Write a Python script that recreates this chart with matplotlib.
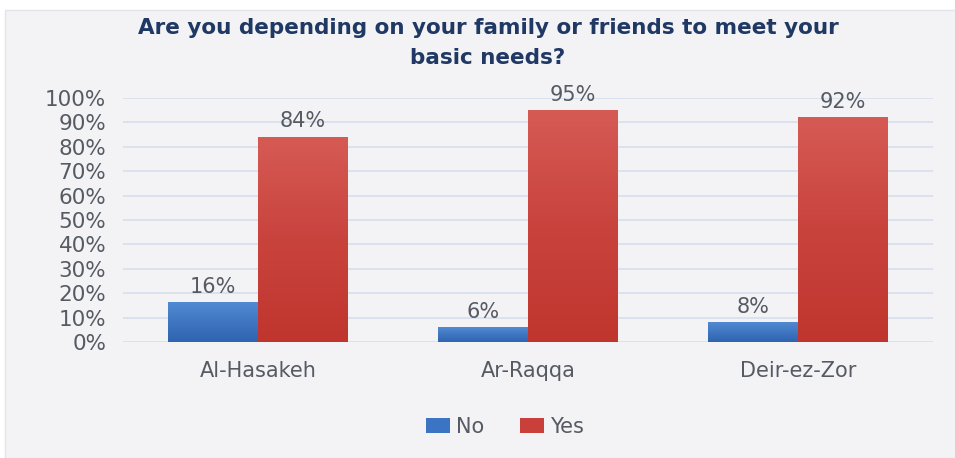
import numpy as np
import matplotlib.pyplot as plt
from matplotlib.patches import Rectangle
from matplotlib.colors import LinearSegmentedColormap

regions = ["Al-Hasakeh", "Ar-Raqqa", "Deir-ez-Zor"]
no_vals = [0.16, 0.06, 0.08]
yes_vals = [0.84, 0.95, 0.92]
yticks = [0, 0.1, 0.2, 0.3, 0.4, 0.5, 0.6, 0.7, 0.8, 0.9, 1.0]

plt.rcParams['font.family'] = ['DejaVu Sans']
label_color = '#555a63'

fig = plt.figure(figsize=(9.55, 4.58), dpi=100, facecolor='white')
bg = Rectangle((5 / 955, 0), 1, 1 - 10 / 458, transform=fig.transFigure,
               facecolor='#f3f3f5', edgecolor='#e4e4e8', lw=1, zorder=-5)
fig.patches.append(bg)

ax = fig.add_axes([123 / 955, 116 / 458, 810 / 955, 244 / 458])
ax.set_facecolor('none')

x = np.arange(len(regions))
w = 1 / 3
bars_no = ax.bar(x - w / 2, no_vals, w, color='#3b74c2', label='No', zorder=3)
bars_yes = ax.bar(x + w / 2, yes_vals, w, color='#c9403a', label='Yes', zorder=3)

# soft vertical gradient on top of each bar, like the office chart
grad = np.linspace(1, 0, 64).reshape(-1, 1)
cmaps = {
    'no': LinearSegmentedColormap.from_list('no', ['#2f64b0', '#5189d2']),
    'yes': LinearSegmentedColormap.from_list('yes', ['#c0362f', '#c9433d', '#d65a54']),
}
for key, bars in (('no', bars_no), ('yes', bars_yes)):
    for b in bars:
        x0, y0, bw, bh = b.get_x(), b.get_y(), b.get_width(), b.get_height()
        ax.imshow(grad, cmap=cmaps[key], aspect='auto', extent=(x0, x0 + bw, y0, y0 + bh),
                  zorder=4, interpolation='bicubic', vmin=0, vmax=1)

for bars in (bars_no, bars_yes):
    for b in bars:
        ax.annotate(f"{b.get_height() * 100:.0f}%", (b.get_x() + b.get_width() / 2, b.get_height()),
                    xytext=(0, 4), textcoords='offset points', ha='center', va='bottom',
                    fontsize=15, color=label_color, zorder=5)

ax.set_xlim(-0.5, 2.5)
ax.set_ylim(0, 1.0)
ax.set_yticks(yticks)
ax.set_yticklabels([f"{int(round(t * 100))}%" for t in yticks], fontsize=15.5, color=label_color)
ax.set_xticks(x)
ax.set_xticklabels(regions, fontsize=15, color=label_color)
ax.tick_params(length=0)
ax.tick_params(axis='y', pad=12)
ax.tick_params(axis='x', pad=14)
ax.grid(axis='y', color='#d6dfed', lw=1.2, zorder=0)
for s in ax.spines.values():
    s.set_visible(False)

fig.text(0.511, 1 - 18 / 458, "Are you depending on your family or friends to meet your\nbasic needs?",
         ha='center', va='top', fontsize=15.5, fontweight='bold', color='#1f3864', linespacing=1.65)

ax.legend(loc='center', bbox_to_anchor=(505 / 955, 1 - 427 / 458), bbox_transform=fig.transFigure,
          ncol=2, frameon=False, fontsize=15, labelcolor=label_color, handlelength=1.15,
          handleheight=0.72, handletextpad=0.3, columnspacing=1.7)

fig.savefig('out.png', dpi=100, facecolor=fig.get_facecolor())
